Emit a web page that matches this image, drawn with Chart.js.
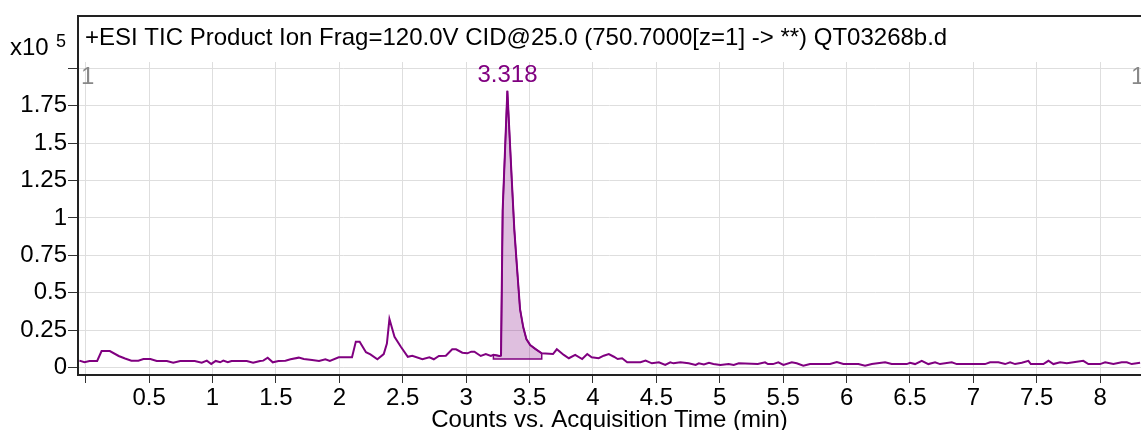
<!DOCTYPE html>
<html lang="en">
<head>
    <meta charset="UTF-8">
    <title>TIC</title>
    <script src="https://cdn.jsdelivr.net/npm/chart.js"></script>
    <style>
        body { margin: 0; background: #fff; }
    </style>
</head>
<body>
    <div style="width: 1141px; height: 430px;">
        <canvas id="grafico1"></canvas>
    </div>

    <script>
        const tempos = [-0.05, -0.01, 0.03, 0.09, 0.125, 0.19, 0.26, 0.31, 0.36, 0.415, 0.455, 0.51, 0.56, 0.64, 0.69, 0.745, 0.86, 0.915, 0.955, 0.99,
            1.025, 1.06, 1.085, 1.12, 1.15, 1.27, 1.32, 1.375, 1.40, 1.435, 1.475, 1.52, 1.575, 1.615, 1.68, 1.72, 1.785, 1.84, 1.89, 1.925,
            1.995, 2.10, 2.13, 2.16, 2.21, 2.245, 2.30, 2.35, 2.375, 2.395, 2.435, 2.485, 2.54, 2.575, 2.655, 2.71, 2.745, 2.785, 2.84, 2.89,
            2.92, 2.97, 3.01, 3.04, 3.065, 3.115, 3.155, 3.195, 3.215, 3.265, 3.275, 3.288, 3.325, 3.36, 3.38, 3.40, 3.425, 3.45, 3.475, 3.505,
            3.545, 3.596, 3.685, 3.715, 3.77, 3.81, 3.86, 3.915, 3.955, 3.99, 4.045, 4.085, 4.125, 4.165, 4.195, 4.23, 4.27, 4.375, 4.415, 4.465,
            4.52, 4.57, 4.61, 4.635, 4.69, 4.755, 4.81, 4.835, 4.875, 4.915, 4.95, 5.005, 5.07, 5.11, 5.15, 5.30, 5.357, 5.38, 5.42, 5.462,
            5.502, 5.568, 5.607, 5.659, 5.712, 5.870, 5.923, 5.975, 6.093, 6.146, 6.199, 6.304, 6.356, 6.475, 6.501, 6.540, 6.593, 6.645, 6.698, 6.737,
            6.830, 6.869, 7.092, 7.132, 7.197, 7.250, 7.290, 7.329, 7.382, 7.434, 7.453, 7.552, 7.592, 7.631, 7.684, 7.737, 7.789, 7.867, 7.907, 7.999,
            8.039, 8.104, 8.170, 8.210, 8.249, 8.315];
        const contagens = [0.046, 0.035, 0.044, 0.044, 0.11, 0.11, 0.077, 0.06, 0.046, 0.046, 0.057, 0.057, 0.044, 0.044, 0.032, 0.044, 0.044, 0.032, 0.046, 0.024,
            0.044, 0.035, 0.046, 0.035, 0.044, 0.044, 0.032, 0.044, 0.046, 0.066, 0.035, 0.044, 0.046, 0.055, 0.066, 0.057, 0.05, 0.044, 0.055, 0.044,
            0.068, 0.068, 0.173, 0.173, 0.102, 0.088, 0.055, 0.09, 0.16, 0.324, 0.205, 0.139, 0.072, 0.079, 0.055, 0.068, 0.055, 0.077, 0.079, 0.122,
            0.122, 0.099, 0.095, 0.106, 0.106, 0.077, 0.09, 0.077, 0.085, 0.077, 0.08, 1.05, 1.85, 1.25, 0.92, 0.68, 0.39, 0.27, 0.19, 0.15,
            0.125, 0.095, 0.09, 0.122, 0.084, 0.062, 0.084, 0.057, 0.09, 0.068, 0.062, 0.079, 0.09, 0.072, 0.057, 0.062, 0.035, 0.035, 0.046, 0.028,
            0.035, 0.017, 0.035, 0.028, 0.035, 0.028, 0.017, 0.028, 0.021, 0.032, 0.024, 0.017, 0.024, 0.017, 0.028, 0.023, 0.035, 0.023, 0.023, 0.035,
            0.017, 0.035, 0.028, 0.012, 0.023, 0.023, 0.037, 0.023, 0.023, 0.012, 0.023, 0.035, 0.023, 0.023, 0.032, 0.023, 0.045, 0.023, 0.035, 0.023,
            0.035, 0.023, 0.023, 0.035, 0.035, 0.023, 0.035, 0.023, 0.032, 0.045, 0.023, 0.023, 0.045, 0.023, 0.035, 0.028, 0.035, 0.045, 0.023, 0.023,
            0.035, 0.023, 0.035, 0.035, 0.023, 0.032];

        // pico integrado: inicio, fim e linha de base
        const picoInicio = 3.215;
        const picoFim = 3.596;
        const picoBase = 0.057;
        const picoTempo = 3.318;
        const picoRotulo = '3.318';

        const ticksX = [0.5, 1, 1.5, 2, 2.5, 3, 3.5, 4, 4.5, 5, 5.5, 6, 6.5, 7, 7.5, 8];
        const ticksY = [0, 0.25, 0.5, 0.75, 1, 1.25, 1.5, 1.75];

        const titulo = '+ESI TIC Product Ion Frag=120.0V CID@25.0 (750.7000[z=1] -> **) QT03268b.d';
        const roxo = '#800080';
        const fonte = '"Liberation Sans", Arial, sans-serif';

        let traco = tempos.map((t, i) => ({ x: t, y: contagens[i] }));

        // area do pico: curva + volta pela linha de base
        let area = [];
        tempos.forEach((t, i) => {
            if (t >= picoInicio && t <= picoFim) area.push({ x: t, y: contagens[i] });
        });
        area.push({ x: picoFim, y: picoBase });
        area.push({ x: picoInicio, y: picoBase });
        area.push({ x: area[0].x, y: area[0].y });

        function rotulo(v) {
            return String(+v.toFixed(2));
        }

        const decoracao = {
            id: 'decoracao',
            afterDraw(chart) {
                const c = chart.ctx;
                const a = chart.chartArea;
                const sx = chart.scales.x;
                const sy = chart.scales.y;
                c.save();
                // moldura do titulo
                c.strokeStyle = '#222';
                c.lineWidth = 2;
                c.beginPath();
                c.moveTo(a.left, a.bottom);
                c.lineTo(a.left, 16);
                c.lineTo(a.right + 2, 16);
                c.stroke();

                c.fillStyle = '#000';
                c.textBaseline = 'middle';
                c.textAlign = 'left';
                c.font = '24px ' + fonte;
                c.fillText(titulo, 85, 38);

                // x10^5
                c.fillText('x10', 10, 48);
                c.font = '18px ' + fonte;
                c.fillText('5', 56, 42);

                // marcadores "1"
                c.fillStyle = '#888';
                c.font = '24px ' + fonte;
                c.fillText('1', 81, 77);
                c.fillText('1', 1131, 77);

                // rotulo do pico
                let i = contagens.indexOf(Math.max(...contagens));
                c.fillStyle = roxo;
                c.textAlign = 'center';
                c.fillText(picoRotulo, sx.getPixelForValue(picoTempo) + 1, sy.getPixelForValue(contagens[i]) - 15);
                c.restore();
            }
        };

        const ctx = document.getElementById('grafico1');

        let grafico1 = new Chart(ctx, {
            type: 'line',
            data: {
                datasets: [{
                    data: area,
                    borderColor: roxo,
                    borderWidth: 1.5,
                    backgroundColor: 'rgba(128, 0, 128, 0.25)',
                    fill: 'shape',
                    pointRadius: 0,
                    tension: 0
                }, {
                    data: traco,
                    borderColor: roxo,
                    borderWidth: 2,
                    fill: false,
                    pointRadius: 0,
                    tension: 0
                }]
            },
            options: {
                responsive: true,
                maintainAspectRatio: false,
                animation: false,
                layout: { padding: { top: 62, left: 0, right: 0, bottom: 0 } },
                plugins: {
                    legend: { display: false },
                    tooltip: { enabled: false }
                },
                scales: {
                    x: {
                        type: 'linear',
                        min: -0.061,
                        max: 8.322,
                        afterFit: s => { s.height = 55; },
                        afterBuildTicks: s => { s.ticks = [0].concat(ticksX).map(v => ({ value: v })); },
                        ticks: {
                            callback: v => v === 0 ? '' : rotulo(v),
                            color: '#000',
                            font: { family: fonte, size: 24 },
                            maxRotation: 0,
                            autoSkip: false,
                            padding: 1
                        },
                        grid: { color: '#dedede', tickColor: '#333', tickLength: 8, lineWidth: 1 },
                        border: { color: '#222', width: 2 },
                        title: {
                            display: true,
                            text: 'Counts vs. Acquisition Time (min)',
                            color: '#000',
                            font: { family: fonte, size: 24 },
                            padding: { top: 0, bottom: -5 }
                        }
                    },
                    y: {
                        min: -0.05,
                        max: 2.042,
                        afterFit: s => { s.width = 78; },
                        afterBuildTicks: s => { s.ticks = ticksY.concat([2]).map(v => ({ value: v })); },
                        ticks: {
                            callback: v => v >= 2 ? '' : rotulo(v),
                            color: '#000',
                            font: { family: fonte, size: 24 },
                            padding: 1
                        },
                        grid: { color: '#dedede', tickColor: '#333', tickLength: 10, lineWidth: 1 },
                        border: { display: false }
                    }
                }
            },
            plugins: [decoracao]
        });
    </script>
</body>
</html>
